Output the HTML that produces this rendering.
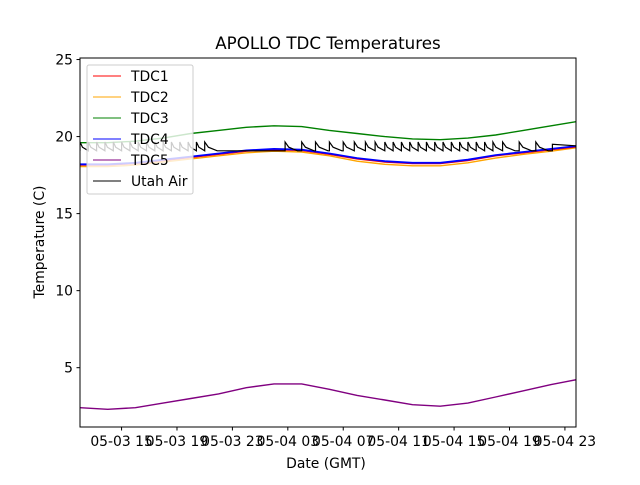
<!DOCTYPE html>
<html><head><meta charset="utf-8"><style>
body{margin:0;background:#fff;font-family:"Liberation Sans","DejaVu Sans",sans-serif;}
svg text{font-family:"DejaVu Sans","Liberation Sans",sans-serif;}
</style></head><body>
<svg id="chart" width="640" height="480" xmlns="http://www.w3.org/2000/svg">
<rect width="640" height="480" fill="#fff"/>
<g id="plot"></g>
</svg>
<script>
// hours since 05-03 12:00, sampled every 2 hours
const hours = [0,2,4,6,8,10,12,14,16,18,20,22,24,26,28,30,32,34,36];
const tdc1 = [18.15,18.15,18.25,18.45,18.65,18.85,19.05,19.15,19.1,18.85,18.55,18.35,18.25,18.25,18.45,18.75,18.95,19.15,19.35];
const tdc2 = [18.05,18.05,18.15,18.35,18.55,18.75,18.95,19.05,19.0,18.75,18.4,18.2,18.1,18.1,18.3,18.6,18.85,19.05,19.3];
const tdc3 = [19.6,19.6,19.7,19.9,20.2,20.4,20.6,20.7,20.65,20.4,20.2,20.0,19.85,19.8,19.9,20.1,20.4,20.7,21.0];
const tdc4 = [18.2,18.2,18.3,18.5,18.7,18.9,19.1,19.2,19.15,18.9,18.6,18.4,18.3,18.3,18.5,18.8,19.0,19.2,19.4];
const tdc5 = [2.4,2.3,2.4,2.7,3.0,3.3,3.7,3.95,3.95,3.6,3.2,2.9,2.6,2.5,2.7,3.1,3.5,3.9,4.25];
// Utah Air sawtooth: hours where heater kicks in
const utahSpikes = [0,0.6,1.2,1.8,2.4,3.0,3.6,4.2,4.8,5.4,6.0,6.6,7.2,7.8,8.4,9.0,14.8,16,17,18,19,19.8,20.6,21.3,22,22.6,23.2,23.8,24.4,25,25.6,26.2,26.8,27.4,28,28.6,29.2,29.8,30.5,31.7,32.9];
const utahPeak = 19.65;
const utahBase = 19.08;
const utahStep = [[34.1,19.1],[34.1,19.5],[35.8,19.4]];
const yTicks = [5,10,15,20,25];
const xTickHours = [3,7,11,15,19,23,27,31,35];
const xTickLabels = ["05-03 15","05-03 19","05-03 23","05-04 03","05-04 07","05-04 11","05-04 15","05-04 19","05-04 23"];
const legendNames = ["TDC1","TDC2","TDC3","TDC4","TDC5","Utah Air"];
const colors = ["red","orange","green","blue","purple","black"];

const L=80,R=576,T=58,B=427;
const xMin=0,xMax=35.8,yMin=1.15,yMax=25.1;
const xs=h=>L+(h-xMin)/(xMax-xMin)*(R-L);
const ys=v=>B-(v-yMin)/(yMax-yMin)*(B-T);
const NS="http://www.w3.org/2000/svg";
const g=document.getElementById('plot');
function mk(tag,attrs,parent){const e=document.createElementNS(NS,tag);for(const k in attrs)e.setAttribute(k,attrs[k]);(parent||g).appendChild(e);return e;}

const clip=mk('clipPath',{id:'cp'});mk('rect',{x:L,y:T,width:R-L,height:B-T},clip);
const series=[tdc1,tdc2,tdc3,tdc4,tdc5];
const order=[1,0,3,2,4];
order.forEach(i=>{
  const d=hours.map((h,j)=>(j?'L':'M')+xs(h).toFixed(1)+','+ys(series[i][j]).toFixed(1)).join(' ');
  const p=mk('path',{d:d,fill:'none',stroke:colors[i],'stroke-width':i==3?1.8:1.4,'clip-path':'url(#cp)'});
  
  
});
// Utah air
let d='';
utahSpikes.forEach((t,i)=>{
  const next=i<utahSpikes.length-1?utahSpikes[i+1]:utahStep[0][0];
  const end=Math.min(next,t+0.9);
  const mid=t+(end-t)*0.3;
  d+=(i?'L':'M')+xs(t).toFixed(1)+','+ys(utahBase).toFixed(1)+' L'+xs(t).toFixed(1)+','+ys(utahPeak).toFixed(1)+
     ' L'+xs(mid).toFixed(1)+','+ys(utahBase+(utahPeak-utahBase)*0.4).toFixed(1)+
     ' L'+xs(end).toFixed(1)+','+ys(utahBase).toFixed(1)+' L'+xs(next).toFixed(1)+','+ys(utahBase).toFixed(1)+' ';
});
utahStep.forEach(p=>{d+='L'+xs(p[0]).toFixed(1)+','+ys(p[1]).toFixed(1)+' ';});
const ua=mk('path',{d:d,fill:'none',stroke:'black','stroke-width':1.2,'clip-path':'url(#cp)'});



const fr=mk('rect',{x:L,y:T,width:R-L,height:B-T,fill:'none',stroke:'#000','stroke-width':1});



yTicks.forEach(v=>{
  const y=ys(v);
  const tk=mk('line',{x1:L-3.5,x2:L,y1:y,y2:y,stroke:'#000'});
  
  
  const t=mk('text',{x:L-7,y:y+5,'text-anchor':'end','font-size':'13.9px'});
  t.textContent=v;
  
  
});
xTickHours.forEach((h,i)=>{
  const x=xs(h);
  const tk=mk('line',{x1:x,x2:x,y1:B,y2:B+3.5,stroke:'#000'});
  
  
  const t=mk('text',{x:x,y:B+19,'text-anchor':'middle','font-size':'13.9px'});
  t.textContent=xTickLabels[i];
  
  
});
let t=mk('text',{x:328,y:49,'text-anchor':'middle','font-size':'16.7px'});t.textContent='APOLLO TDC Temperatures';


t=mk('text',{x:326,y:468,'text-anchor':'middle','font-size':'13.9px'});t.textContent='Date (GMT)';


t=mk('text',{x:0,y:0,'text-anchor':'middle','font-size':'13.9px',transform:'translate(44,242) rotate(-90)'});t.textContent='Temperature (C)';



const lg=mk('g',{});


mk('rect',{x:87,y:65,width:106,height:129,rx:2,fill:'#fff','fill-opacity':0.8,stroke:'#ccc','stroke-width':1},lg);
legendNames.forEach((n,i)=>{
  const y=76+i*21;
  const e=mk('g',{},lg);
  
  
  mk('line',{x1:93,x2:121,y1:y,y2:y,stroke:colors[i],'stroke-width':1},e);
  const tx=mk('text',{x:131,y:y+5,'font-size':'13.9px'},e);tx.textContent=n;
});
</script>
</body></html>
